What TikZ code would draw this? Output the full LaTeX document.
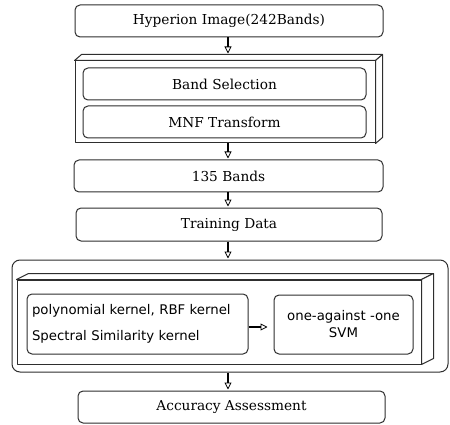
\documentclass[tikz,border=0pt]{standalone}
\usepackage{fontspec}
\setmainfont{DejaVu Serif}
\newfontfamily\kfont{DejaVu Sans}
\usetikzlibrary{arrows.meta,calc}
\definecolor{edge}{HTML}{2E2E2E}
\tikzset{
  box/.style={draw=edge, line width=1pt, rounded corners=5pt, fill=white,
    inner sep=0pt, font=\fontsize{13.7}{16}\selectfont},
  face/.style={draw=edge, line width=1pt, fill=white, line join=round},
  flow/.style={line width=1.7pt, black,
    -{Triangle[open, length=7pt, width=7pt, line width=0.8pt]}, shorten >=1pt},
}
\begin{document}
\begin{tikzpicture}[x=1pt,y=-1pt]
\useasboundingbox (0,0) rectangle (450,425);

% input image
\node[box, minimum width=308, minimum height=32] (hyp) at (229,21) {Hyperion Image(242Bands)};

% preprocessing block
\node[face, minimum width=300, minimum height=82, inner sep=0pt] (stage1) at (225,102) {};
\coordinate (s1bl) at ($(stage1.north west)+(7,-6)$);
\coordinate (s1br) at ($(stage1.north east)+(7,-6)$);
\coordinate (s1sb) at ($(stage1.south east)+(7,-6)$);
\draw[face] (stage1.north west) -- (s1bl) -- (s1br) -- (stage1.north east) -- cycle;
\draw[face] (stage1.north east) -- (s1br) -- (s1sb) -- (stage1.south east) -- cycle;
\node[box, minimum width=283, minimum height=32] (band) at (224.5,84) {Band Selection};
\node[box, minimum width=283, minimum height=32] (mnf) at (224.5,122) {MNF Transform};

\node[box, minimum width=309, minimum height=32] (b135) at (228.5,176) {135 Bands};
\node[box, minimum width=306, minimum height=33] (train) at (229,224.5) {Training Data};

% classification block
\node[box, rounded corners=8pt, minimum width=436, minimum height=112] (outer) at (230,316) {};
\node[face, minimum width=404, minimum height=84, inner sep=0pt] (stage2) at (219,322) {};
\coordinate (s2bl) at ($(stage2.north west)+(12,-6)$);
\coordinate (s2br) at ($(stage2.north east)+(12,-6)$);
\coordinate (s2sb) at ($(stage2.south east)+(12,-6)$);
\draw[face] (stage2.north west) -- (s2bl) -- (s2br) -- (stage2.north east) -- cycle;
\draw[face] (stage2.north east) -- (s2br) -- (s2sb) -- (stage2.south east) -- cycle;
\node[box, font=\kfont\fontsize{13.3}{15}\selectfont, minimum width=221, minimum height=60,
  text width=211pt, inner xsep=5pt, align=left] (kern) at (137.5,324)
  {polynomial kernel, RBF kernel\\[11pt]Spectral Similarity kernel};
\node[box, font=\kfont\fontsize{13.3}{17}\selectfont, minimum width=139, minimum height=59,
  align=center] (svm) at (343.5,324.5) {one-against -one\\SVM};

\node[box, minimum width=307, minimum height=32] (acc) at (231.5,407) {Accuracy Assessment};

% connectors
\draw[flow] (hyp.south -| 228,0) -- (s1bl -| 228,0);
\draw[flow] (stage1.south -| 228,0) -- (b135.north -| 228,0);
\draw[flow] (b135.south -| 228,0) -- (train.north -| 228,0);
\draw[flow] (train.south -| 228,0) -- (outer.north -| 228,0);
\draw[flow] (outer.south -| 228,0) -- (acc.north -| 228,0);
\draw[flow, shorten >=6pt] ($(kern.east)+(0,3)$) -- ($(svm.west)+(0,2.5)$);
\end{tikzpicture}
\end{document}
